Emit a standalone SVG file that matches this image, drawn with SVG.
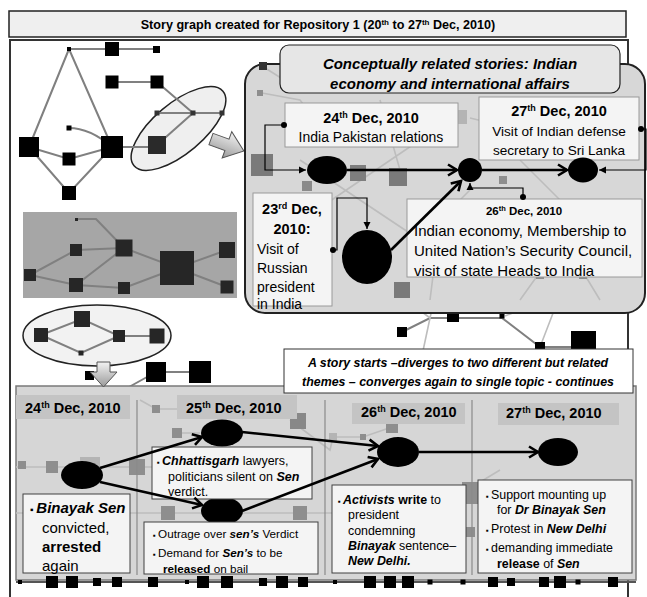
<svg xmlns="http://www.w3.org/2000/svg" width="647" height="597" viewBox="0 0 647 597">
<style>
text{font-family:"Liberation Sans",Arial,"DejaVu Sans",sans-serif;fill:#000}
.b{font-weight:bold}
.bi{font-weight:bold;font-style:italic}
.gl{stroke:#808080;stroke-width:2;fill:none}
.fl{stroke:#bdbdbd;stroke-width:1.6;fill:none}
.sq{fill:#000}
.dq{fill:#262626}
.fq{fill:#8e8e8e}
.lq{fill:#b4b4b4}
.box{fill:#f4f4f4;stroke:#9a9a9a;stroke-width:1}
.bbox{fill:#f4f4f4;stroke:#404040;stroke-width:1}
.dhead{fill:#c4c4c4}
.thick{stroke:#000;stroke-width:2.6;fill:none}
.thin{stroke:#000;stroke-width:1.2;fill:none}
.node{fill:#000}
</style>
<defs>
<marker id="chev" markerUnits="userSpaceOnUse" markerWidth="14" markerHeight="14" refX="11" refY="7" orient="auto">
<path d="M2,1.5 L11,7 L2,12.5" fill="none" stroke="#000" stroke-width="2.6"/>
</marker>
<marker id="tri" markerUnits="userSpaceOnUse" markerWidth="8" markerHeight="8" refX="7" refY="4" orient="auto">
<path d="M0,0.5 L7,4 L0,7.5 Z" fill="#000"/>
</marker>
<marker id="dot" markerUnits="userSpaceOnUse" markerWidth="8" markerHeight="8" refX="4" refY="4">
<circle cx="4" cy="4" r="3" fill="#000"/>
</marker>
<linearGradient id="ga" x1="0" y1="0" x2="0" y2="1">
<stop offset="0" stop-color="#f2f2f2"/><stop offset="1" stop-color="#9a9a9a"/>
</linearGradient>
</defs>

<!-- frame and title -->
<g id="frame">
<rect x="10" y="40" width="618" height="570" fill="#fff" stroke="#333" stroke-width="2"/>
</g>
<g id="title">
<rect x="9" y="11" width="617" height="26" fill="#efefef" stroke="#222" stroke-width="1.5"/>
<text x="318" y="29" class="b" font-size="12.6" text-anchor="middle">Story graph created for Repository 1 (20<tspan font-size="8" dy="-4">th</tspan><tspan dy="4"> to 27</tspan><tspan font-size="8" dy="-4">th</tspan><tspan dy="4"> Dec, 2010)</tspan></text>
</g>

<!-- top-left graph -->
<g id="topleft-graph">
<ellipse cx="178.5" cy="128.5" rx="58" ry="25" transform="rotate(-40 178.5 128.5)" fill="#efefef" stroke="#222" stroke-width="1.5"/>
<path class="gl" d="M69,49 H157 M69,49 L29,147 M69,49 L112,147 M112,82 H157 L193,113 L222,113 M157,113 H193 L157,145 M29,147 L69,159 L112,147 M29,147 L69,193 L112,147 M69,128 Q90,128 112,147 M112,147 H157"/>
<rect class="sq" x="67" y="47" width="4" height="4"/>
<rect class="sq" x="105" y="42" width="14" height="14"/>
<rect class="sq" x="153" y="46" width="7" height="7"/>
<rect class="sq" x="105.5" y="75.5" width="13" height="13"/>
<rect class="sq" x="150.5" y="75.5" width="13" height="13"/>
<rect fill="#333" x="154.5" y="110.5" width="5" height="5"/>
<rect fill="#333" x="190.5" y="110.5" width="5" height="5"/>
<rect fill="#333" x="219.5" y="110.5" width="5" height="5"/>
<rect fill="#2a2a2a" x="148" y="136" width="18" height="18"/>
<rect class="sq" x="101" y="136" width="22" height="22"/>
<rect class="sq" x="19" y="137" width="20" height="20"/>
<rect class="sq" x="62.5" y="152.5" width="13" height="13"/>
<rect class="sq" x="66.5" y="125.5" width="5" height="5"/>
<rect class="sq" x="62" y="186" width="14" height="14"/>
<polygon points="0,-6 17,-6 17,-14 35,0 17,14 17,6 0,6" transform="translate(211,139) rotate(20)" fill="url(#ga)" stroke="#555" stroke-width="1"/>
</g>

<!-- gray graph box -->
<g id="gray-graph">
<rect x="23" y="212" width="214" height="86" fill="#a6a6a6"/>
<path class="gl" stroke="#6e6e6e" d="M76,219 H96 L124,248 M30,275 L76,250 L124,248 M30,275 L76,285 L124,288 L177,268 M76,285 L124,248 L177,268 L227,250 M177,268 L227,287"/>
<rect class="dq" x="75" y="218" width="3" height="3"/>
<rect class="dq" x="70" y="244" width="12" height="12"/>
<rect class="dq" x="115.5" y="239.5" width="17" height="17"/>
<rect class="dq" x="24" y="269" width="12" height="12"/>
<rect class="dq" x="69" y="278" width="14" height="14"/>
<rect class="dq" x="118" y="282" width="12" height="12"/>
<rect class="dq" x="160" y="251" width="34" height="34"/>
<rect class="dq" x="219" y="242" width="16" height="16"/>
<rect class="dq" x="220.5" y="280.5" width="13" height="13"/>
</g>

<!-- bottom-left ellipse graph -->
<g id="ellipse-graph">
<ellipse cx="97" cy="335.5" rx="74" ry="30.5" fill="#f2f2f2" stroke="#222" stroke-width="1.5"/>
<path class="gl" d="M41,335 L82,319 L119,336 H157 M41,335 L81,353 L119,336"/>
<rect class="dq" x="34" y="328" width="14" height="14"/>
<rect class="dq" x="74" y="311" width="16" height="16"/>
<rect class="dq" x="78.5" y="350.5" width="5" height="5"/>
<rect class="dq" x="113" y="330" width="12" height="12"/>
<rect class="dq" x="149.5" y="328.5" width="15" height="15"/>
</g>

<!-- middle floating graph pieces -->
<g id="mid-graph">
<path class="gl" d="M156,372 H200 M156,372 L120,392 M402,332 L430,318 H502 L540,347 H583"/>
<path class="fl" stroke="#a8a8a8" d="M430,318 L445,250 M430,318 L380,280 M430,318 L414,393 M502,316 L520,270 M540,347 L560,295 M545,300 L505,316"/>
<rect class="sq" x="85" y="371" width="9" height="9"/>
<rect class="sq" x="146" y="362" width="20" height="20"/>
<rect class="sq" x="189" y="361" width="22" height="22"/>
<rect class="sq" x="447" y="310" width="12" height="12"/>
<rect class="sq" x="499.5" y="313.5" width="5" height="5"/>
<rect class="sq" x="397" y="327" width="10" height="10"/>
<rect class="sq" x="535" y="342" width="10" height="10"/>
<rect class="sq" x="571" y="331" width="25" height="25"/>
</g>

<!-- top-right panel -->
<g id="panel">
<rect x="245" y="64" width="400" height="249" rx="20" fill="#d7d7d7" stroke="#222" stroke-width="2"/>
<path class="fl" d="M262,93 L300,100 L330,140 M262,66 L300,90 M300,160 L420,240 M280,235 L420,140 M430,300 L440,220 L470,190 M380,100 L400,170 M470,118 L520,130 L600,140 M520,160 L560,200 M540,272 L520,300 M583,272 L600,300"/>
<rect x="259" y="62" width="8" height="8" fill="#333"/>
<rect class="fq" x="257" y="90" width="6" height="6"/>
<rect x="251" y="154" width="22" height="22" fill="#7a7a7a"/>
<rect x="350" y="165" width="16" height="16" fill="#7e7e7e"/>
<rect x="389" y="168" width="18" height="18" fill="#7a7a7a"/>
<rect x="302" y="181" width="10" height="10" fill="#8a8a8a"/>
<rect x="394" y="282" width="16" height="16" fill="#7a7a7a"/>
<rect class="lq" x="453" y="110" width="14" height="14"/>
<rect class="fq" x="499" y="176" width="8" height="8"/>
<rect class="fq" x="536" y="271" width="8" height="8"/>
<rect class="fq" x="579" y="271" width="8" height="8"/>
</g>

<g id="panel-header">
<rect x="280" y="45" width="340" height="48" rx="9" fill="#e6e6e6" stroke="#222" stroke-width="1.2"/>
<text x="450" y="69" class="bi" font-size="15" text-anchor="middle">Conceptually related  stories: Indian</text>
<text x="450" y="89" class="bi" font-size="15" text-anchor="middle">economy and international  affairs</text>
</g>

<g id="box-24p">
<rect class="box" x="285" y="103" width="173" height="44"/>
<text x="371" y="123" class="b" font-size="14.5" text-anchor="middle">24<tspan font-size="9" dy="-5">th</tspan><tspan dy="5"> Dec, 2010</tspan></text>
<text x="371" y="142" font-size="14" text-anchor="middle">India Pakistan relations</text>
</g>

<g id="box-27p">
<rect class="box" x="479" y="97" width="160" height="63"/>
<text x="559" y="116" class="b" font-size="14.5" text-anchor="middle">27<tspan font-size="9" dy="-5">th</tspan><tspan dy="5"> Dec, 2010</tspan></text>
<text x="559" y="136" font-size="13.6" text-anchor="middle">Visit of Indian defense</text>
<text x="559" y="155" font-size="13.6" text-anchor="middle">secretary to Sri Lanka</text>
</g>

<g id="box-23p">
<rect class="box" x="253" y="193" width="79" height="113"/>
<text x="292" y="214" class="b" font-size="14.5" text-anchor="middle">23<tspan font-size="9" dy="-5">rd</tspan><tspan dy="5"> Dec,</tspan></text>
<text x="292" y="234" class="b" font-size="14.5" text-anchor="middle">2010:</text>
<text x="257" y="254" font-size="14">Visit of</text>
<text x="257" y="273" font-size="14">Russian</text>
<text x="257" y="292" font-size="14">president</text>
<text x="257" y="309" font-size="14">in India</text>
</g>

<g id="box-26p">
<rect class="box" x="407" y="199" width="235" height="78"/>
<text x="524" y="215" class="b" font-size="11.5" text-anchor="middle">26<tspan font-size="7.5" dy="-4">th</tspan><tspan dy="4"> Dec, 2010</tspan></text>
<text x="414" y="236" font-size="15">Indian economy, Membership to</text>
<text x="414" y="256" font-size="15">United Nation’s Security Council,</text>
<text x="414" y="276" font-size="15">visit of state Heads to India</text>
</g>

<g id="node-p24"><ellipse class="node" cx="327" cy="170" rx="20" ry="14"/></g>
<g id="node-p26"><ellipse class="node" cx="470" cy="170" rx="12" ry="12"/></g>
<g id="node-p27"><ellipse class="node" cx="583" cy="170" rx="15" ry="12.5"/></g>
<g id="node-p23"><ellipse class="node" cx="367" cy="257" rx="25" ry="27"/></g>

<!-- bottom panel -->
<g id="bottom-panel">
<rect x="16" y="386" width="620" height="194" fill="#d6d6d6" stroke="#7a7a7a" stroke-width="1.5"/>
<path class="fl" d="M16,467 H240 M16,513 H335 M140,400 L156,409 H187 M177,433 L200,433 M290,420 L330,450 L333,437 L363,437 L392,427 M440,513 L470,532 M462,493 L500,470"/>
<rect class="fq" x="18" y="461" width="8" height="8"/>
<rect class="fq" x="46" y="461" width="12" height="12"/>
<rect class="lq" x="80" y="457" width="20" height="20"/>
<rect class="fq" x="129" y="459" width="16" height="16"/>
<rect class="fq" x="172" y="428" width="10" height="10"/>
<rect class="fq" x="152" y="405" width="8" height="8"/>
<rect class="fq" x="161" y="506" width="14" height="14"/>
<rect class="fq" x="293" y="506" width="14" height="14"/>
<rect fill="#888" x="290" y="413" width="16" height="16"/>
<rect class="lq" x="282" y="405" width="14" height="14"/>
<rect class="fq" x="386" y="421" width="12" height="12"/>
<rect class="lq" x="329" y="433" width="8" height="8"/>
<rect class="fq" x="360" y="434" width="6" height="6"/>
<rect class="fq" x="462" y="482" width="22" height="22"/>
<rect class="lq" x="439" y="510" width="6" height="6"/>
<rect class="fq" x="465" y="527" width="10" height="10"/>
<rect class="lq" x="347" y="510" width="12" height="12"/>
<path stroke="#8a8a8a" stroke-width="1.2" d="M137,400 V575 M325,400 V575 M472,400 V575"/>
<rect class="dhead" x="16" y="395" width="114" height="24"/>
<rect class="dhead" x="177" y="395" width="120" height="24"/>
<rect class="dhead" x="352" y="403" width="113" height="21"/>
<rect class="dhead" x="498" y="403" width="121" height="22"/>
<text x="25" y="413" class="b" font-size="14.5">24<tspan font-size="9" dy="-5">th</tspan><tspan dy="5"> Dec, 2010</tspan></text>
<text x="186" y="413" class="b" font-size="14.5">25<tspan font-size="9" dy="-5">th</tspan><tspan dy="5"> Dec, 2010</tspan></text>
<text x="361" y="417" class="b" font-size="14.5">26<tspan font-size="9" dy="-5">th</tspan><tspan dy="5"> Dec, 2010</tspan></text>
<text x="506" y="418" class="b" font-size="14.5">27<tspan font-size="9" dy="-5">th</tspan><tspan dy="5"> Dec, 2010</tspan></text>
<path stroke="#555" stroke-width="2" d="M16,582 H636"/>
<g class="sq">
<rect x="18" y="580" width="4" height="4"/><rect x="46" y="576" width="12" height="12"/><rect x="66" y="576" width="12" height="12"/>
<rect x="93" y="578" width="8" height="8"/><rect x="112" y="577" width="10" height="10"/><rect x="148" y="577" width="10" height="10"/>
<rect x="185" y="580" width="4" height="4"/><rect x="197" y="576" width="12" height="12"/><rect x="221" y="576" width="12" height="12"/>
<rect x="259" y="578" width="8" height="8"/><rect x="276" y="576" width="12" height="12"/><rect x="298" y="577" width="10" height="10"/>
<rect x="333" y="580" width="4" height="4"/><rect x="364" y="576" width="12" height="12"/><rect x="384" y="576" width="12" height="12"/>
<rect x="402" y="576" width="12" height="12"/><rect x="427.5" y="579.5" width="5" height="5"/><rect x="460.5" y="579.5" width="5" height="5"/>
<rect x="488" y="577" width="10" height="10"/><rect x="507" y="578" width="8" height="8"/><rect x="539" y="577" width="10" height="10"/>
<rect x="554" y="576" width="12" height="12"/><rect x="575.5" y="579.5" width="5" height="5"/><rect x="608" y="577" width="10" height="10"/>
</g>
</g>

<g id="annotation">
<rect x="284" y="349" width="349" height="44" fill="#fff" stroke="#333" stroke-width="1"/>
<text x="458" y="367" class="bi" font-size="12.4" text-anchor="middle">A story starts –diverges  to two different  but related</text>
<text x="458" y="386" class="bi" font-size="12.4" text-anchor="middle">themes – converges  again to single topic - continues</text>
</g>

<g id="node-b24"><ellipse class="node" cx="82" cy="475" rx="21" ry="14"/></g>
<g id="node-b25a"><ellipse class="node" cx="222" cy="433" rx="21" ry="13.5"/></g>
<g id="node-b25b"><ellipse class="node" cx="222" cy="511" rx="21" ry="14"/></g>
<g id="node-b26"><ellipse class="node" cx="398" cy="452" rx="21" ry="15"/></g>
<g id="node-b27"><ellipse class="node" cx="558" cy="452" rx="20" ry="14"/></g>

<g id="box-b24">
<rect class="bbox" x="23" y="494" width="107" height="79"/>
<text x="30" y="513" font-size="15"><tspan font-size="10">▪ </tspan><tspan class="bi">Binayak Sen</tspan></text>
<text x="42" y="533" font-size="15">convicted,</text>
<text x="42" y="552" font-size="15" class="b">arrested</text>
<text x="42" y="571" font-size="15">again</text>
</g>

<g id="box-b25a">
<rect class="bbox" x="152" y="447" width="160" height="52"/>
<text x="157" y="465" font-size="12.5"><tspan font-size="8">▪ </tspan><tspan class="bi">Chhattisgarh</tspan> lawyers,</text>
<text x="168" y="481" font-size="12.5">politicians silent on <tspan class="bi">Sen</tspan></text>
<text x="168" y="496" font-size="12.5">verdict.</text>
</g>

<g id="box-b25b">
<rect class="bbox" x="144" y="522" width="174" height="52"/>
<text x="153" y="538" font-size="11.7"><tspan font-size="8">▪ </tspan>Outrage over <tspan class="bi">sen’s</tspan> Verdict</text>
<text x="153" y="557" font-size="11.7"><tspan font-size="8">▪ </tspan>Demand for <tspan class="bi">Sen’s</tspan> to be</text>
<text x="163" y="573" font-size="11.7"><tspan class="b">released</tspan> on bail</text>
</g>

<g id="box-b26">
<rect class="bbox" x="332" y="485" width="134" height="88"/>
<text x="338" y="504" font-size="12.4"><tspan font-size="8">▪ </tspan><tspan class="bi">Activists</tspan> <tspan class="b">write</tspan> to</text>
<text x="348" y="519" font-size="12.4">president</text>
<text x="348" y="535" font-size="12.4">condemning</text>
<text x="348" y="550" font-size="12.4"><tspan class="bi">Binayak</tspan> sentence–</text>
<text x="348" y="565" font-size="12.4" class="bi">New Delhi.</text>
</g>

<g id="box-b27">
<rect class="bbox" x="478" y="480" width="154" height="93"/>
<text x="486" y="499" font-size="12.4"><tspan font-size="8">▪ </tspan>Support mounting up</text>
<text x="497" y="514" font-size="12.4">for <tspan class="bi">Dr Binayak Sen</tspan></text>
<text x="486" y="533" font-size="12.4"><tspan font-size="8">▪ </tspan>Protest in <tspan class="bi">New Delhi</tspan></text>
<text x="486" y="552" font-size="12.4"><tspan font-size="8">▪ </tspan>demanding immediate</text>
<text x="497" y="568" font-size="12.4"><tspan class="b">release</tspan> of <tspan class="bi">Sen</tspan></text>
</g>

<polygon id="down-arrow" points="97,362 110,362 110,372 117,372 103.5,387 90,372 97,372" fill="url(#ga)" stroke="#555" stroke-width="1"/>

<!-- connectors -->
<g id="connectors">
<path class="thick" marker-end="url(#chev)" d="M347,170 H457"/>
<path class="thick" marker-end="url(#chev)" d="M482,170 H567"/>
<path class="thick" marker-end="url(#chev)" d="M391,250 L461,181"/>
<path class="thin" marker-start="url(#dot)" marker-end="url(#tri)" d="M284,125 H265 V170 H306"/>
<path class="thin" marker-start="url(#dot)" marker-end="url(#tri)" d="M641,129 H646 V170 H599"/>
<path class="thin" marker-start="url(#dot)" marker-end="url(#tri)" d="M333,250 H337 V198 H367 V229"/>
<path class="thin" marker-start="url(#dot)" marker-end="url(#tri)" d="M523,197 V188 H470 V183"/>
<path class="thick" marker-end="url(#chev)" d="M100,468 L202,437"/>
<path class="thick" marker-end="url(#chev)" d="M100,482 L202,505"/>
<path class="thick" marker-end="url(#chev)" d="M242,432 L378,446"/>
<path class="thick" marker-end="url(#chev)" d="M242,511 L378,459"/>
<path class="thick" marker-end="url(#chev)" d="M419,452 L538,452"/>
</g>
</svg>
